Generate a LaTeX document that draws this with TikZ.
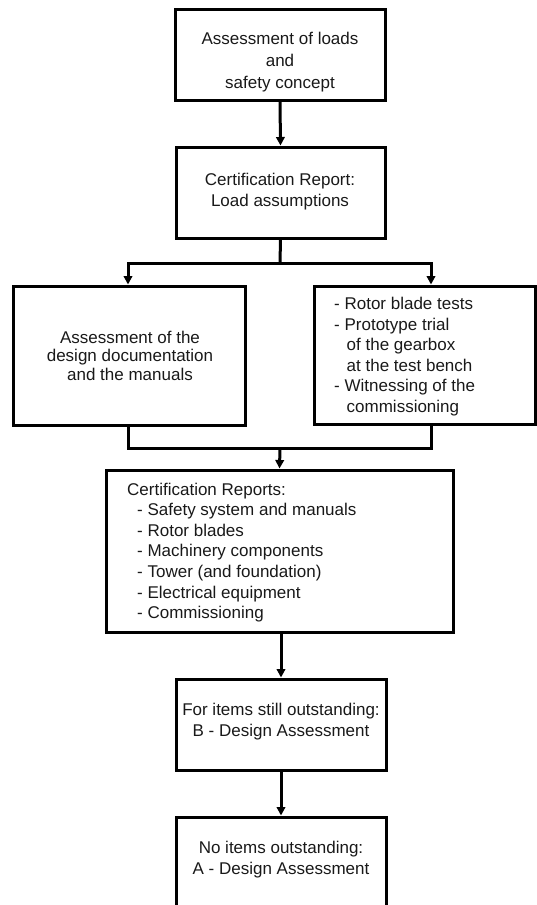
\documentclass[tikz,border=0pt]{standalone}
\usepackage{fontspec}
\setmainfont{Liberation Sans}
\usetikzlibrary{arrows.meta}
\begin{document}
\begin{tikzpicture}[x=1pt,y=-1pt,
  box/.style={draw=black, line width=3pt, inner sep=0pt, line join=miter},
  txt/.style={font=\fontsize{17}{20.6}\selectfont, inner sep=0pt, text=black!90},
  conn/.style={draw=black, line width=3pt, line join=miter},
  arr/.style={conn, -{Triangle[width=8.5pt,length=8.5pt]}}]
\useasboundingbox (0,0) rectangle (537,905);
% boxes
\node[box, minimum width=210pt, minimum height=91pt] (b1) at (280,54.5) {};
\node[box, minimum width=209pt, minimum height=91pt] (b2) at (280.5,192.5) {};
\node[box, minimum width=232pt, minimum height=139pt] (L) at (129,355.5) {};
\node[box, minimum width=221pt, minimum height=138pt] (R) at (424.5,355) {};
\node[box, minimum width=347pt, minimum height=162pt] (C) at (279.5,551) {};
\node[box, minimum width=210pt, minimum height=91pt] (B) at (281,724.5) {};
\node[box, minimum width=210pt, minimum height=91pt] (A) at (281,862.5) {};
% texts
\node[txt, align=center, font=\fontsize{17}{22}\selectfont] (t1) at (280,62.5) {Assessment of loads\\and\\safety concept};
\node[txt, align=center] (t2) at (280,191.5) {Certification Report:\\Load assumptions};
\node[txt, align=center, font=\fontsize{17}{18.5}\selectfont] (tL) at (130,355.5) {Assessment of the\\design documentation\\and the manuals};
\node[txt, align=left, anchor=west] (tR) at (334,356.5) {- Rotor blade tests\\- Prototype trial\\\hspace*{12.5pt}of the gearbox\\\hspace*{12.5pt}at the test bench\\- Witnessing of the\\\hspace*{12.5pt}commissioning};
\node[txt, align=left, anchor=west] (tC) at (127,552.5) {Certification Reports:\\\hspace*{10pt}- Safety system and manuals\\\hspace*{10pt}- Rotor blades\\\hspace*{10pt}- Machinery components\\\hspace*{10pt}- Tower (and foundation)\\\hspace*{10pt}- Electrical equipment\\\hspace*{10pt}- Commissioning};
\node[txt, align=center] (tB) at (281,721.5) {For items still outstanding:\\B - Design Assessment};
\node[txt, align=center] (tA) at (281,859.5) {No items outstanding:\\A - Design Assessment};
% junction points
\coordinate (sp) at (280,263);
\coordinate (jl) at (128,263);
\coordinate (jr) at (431,263);
\coordinate (mg) at (280,448);
% connectors
\draw[arr] (b1.south) -- (b2.north);
\draw[conn] (b2.south) -- (sp);
\draw[arr] (sp) -| (jl |- L.north);
\draw[arr] (sp) -| (jr |- R.north);
\draw[conn] (jl |- L.south) |- (mg -| jr) -- (jr |- R.south);
\draw[arr] (mg) -- (C.north);
\draw[arr] (C.south -| B.north) -- (B.north);
\draw[arr] (B.south) -- (A.north);
\end{tikzpicture}
\end{document}
